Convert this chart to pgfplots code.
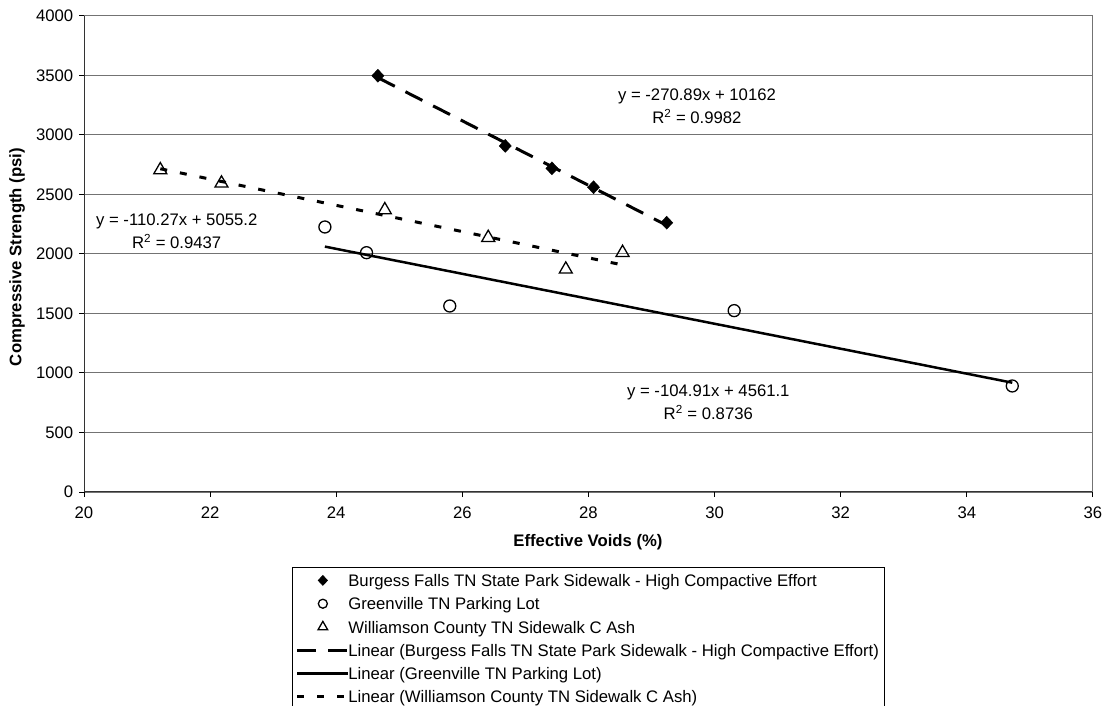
\documentclass[border=0pt]{standalone}
\usepackage{fontspec}
\setmainfont{Liberation Sans}
\usepackage{pgfplots}
\pgfplotsset{compat=1.18}

\definecolor{gridgray}{gray}{0.45}
\newcommand{\chartfont}{\fontsize{16.7bp}{23bp}\selectfont}

\pgfplotsset{
    ptlegend/.style={legend image code/.code={%
        \path[use as bounding box, draw=none, fill=none] (0bp,-8bp) rectangle (51bp,8bp);
        \draw[##1, every mark/.append style={scale=0.75}] plot coordinates {(25.5bp,1bp)};}},
    fitlegend/.style={legend image code/.code={%
        \path[use as bounding box, draw=none, fill=none] (0bp,-8bp) rectangle (51bp,8bp);
        \draw[##1] (0bp,1bp) -- (51bp,1bp);}},
}

\begin{document}
\chartfont
\begin{tikzpicture}
\useasboundingbox (0,0) rectangle (1109bp,706bp);
\begin{axis}[
    at={(84bp,214bp)}, anchor=south west,
    scale only axis,
    width=1009bp, height=476bp,
    xmin=20, xmax=36, ymin=0, ymax=4000,
    xtick={20,22,...,36},
    ytick={0,500,...,4000},
    /pgf/number format/assume math mode=true,
    /pgf/number format/1000 sep={},
    tick align=outside,
    xtick pos=lower, ytick pos=left,
    major tick length=5bp,
    tick style={black, line width=1bp},
    ymajorgrids,
    major grid style={gridgray, line width=1bp},
    axis line style={draw=none},
    ticklabel style={font=\chartfont},
    xticklabel style={yshift=-4bp},
    legend style={
        at={(axis description cs:0.2061,-0.1576)}, anchor=north west,
        draw=black, line width=0.8bp,
        inner xsep=5bp, inner ysep=5bp,
        row sep=5.3bp, column sep=0bp,
        font=\chartfont,
        nodes={inner sep=0pt, text height=14bp, text depth=4bp},
    },
    legend cell align=left,
]
% measured points
\addplot[only marks, mark=diamond*, mark size=6.5bp,
    mark options={black, fill=black, xscale=1.25}, ptlegend]
    coordinates {(24.66,3498) (26.68,2908) (27.42,2720) (28.08,2561) (29.24,2263)};
\addlegendentry{Burgess Falls TN State Park Sidewalk - High Compactive Effort}

\addplot[only marks, mark=o, mark size=6bp,
    mark options={black, line width=1.3bp}, ptlegend]
    coordinates {(23.82,2227) (24.48,2011) (25.80,1563) (30.31,1524) (34.72,891)};
\addlegendentry{Greenville TN Parking Lot}

\addplot[only marks, mark=triangle, mark size=7.5bp,
    mark options={black, line width=1.3bp}, ptlegend]
    coordinates {(21.21,2706) (22.18,2594) (24.77,2370) (26.41,2137) (27.64,1871) (28.54,2011)};
\addlegendentry{Williamson County TN Sidewalk C Ash}

% linear trendlines (end points)
\addplot[black, line width=3bp, dash pattern=on 19bp off 12bp, fitlegend]
    coordinates {(24.66,3481.9) (29.24,2241.2)};
\addlegendentry{Linear (Burgess Falls TN State Park Sidewalk - High Compactive Effort)}

\addplot[black, line width=2.5bp, fitlegend]
    coordinates {(23.82,2062.1) (34.72,918.6)};
\addlegendentry{Linear (Greenville TN Parking Lot)}

\addplot[black, line width=3bp, dash pattern=on 7bp off 13bp, fitlegend]
    coordinates {(21.21,2716.4) (28.54,1908.1)};
\addlegendentry{Linear (Williamson County TN Sidewalk C Ash)}

\node[align=center, font=\chartfont] at (axis cs:29.72,3240) {y = -270.89x + 10162\\R\textsuperscript{2} = 0.9982};
\node[align=center, font=\chartfont] at (axis cs:21.47,2193) {y = -110.27x + 5055.2\\R\textsuperscript{2} = 0.9437};
\node[align=center, font=\chartfont] at (axis cs:29.90,756) {y = -104.91x + 4561.1\\R\textsuperscript{2} = 0.8736};

\draw[black!80, line width=1.6bp] (rel axis cs:0,1) -- (rel axis cs:0,0) -- (rel axis cs:1,0);
\draw[gridgray, line width=1.6bp] (rel axis cs:1,0) -- (rel axis cs:1,1);
\end{axis}
\node[rotate=90, font=\chartfont\bfseries] at (17bp,449bp) {Compressive Strength (psi)};
\node[font=\chartfont\bfseries] at (588bp,164bp) {Effective Voids (\%)};
\end{tikzpicture}
\end{document}
